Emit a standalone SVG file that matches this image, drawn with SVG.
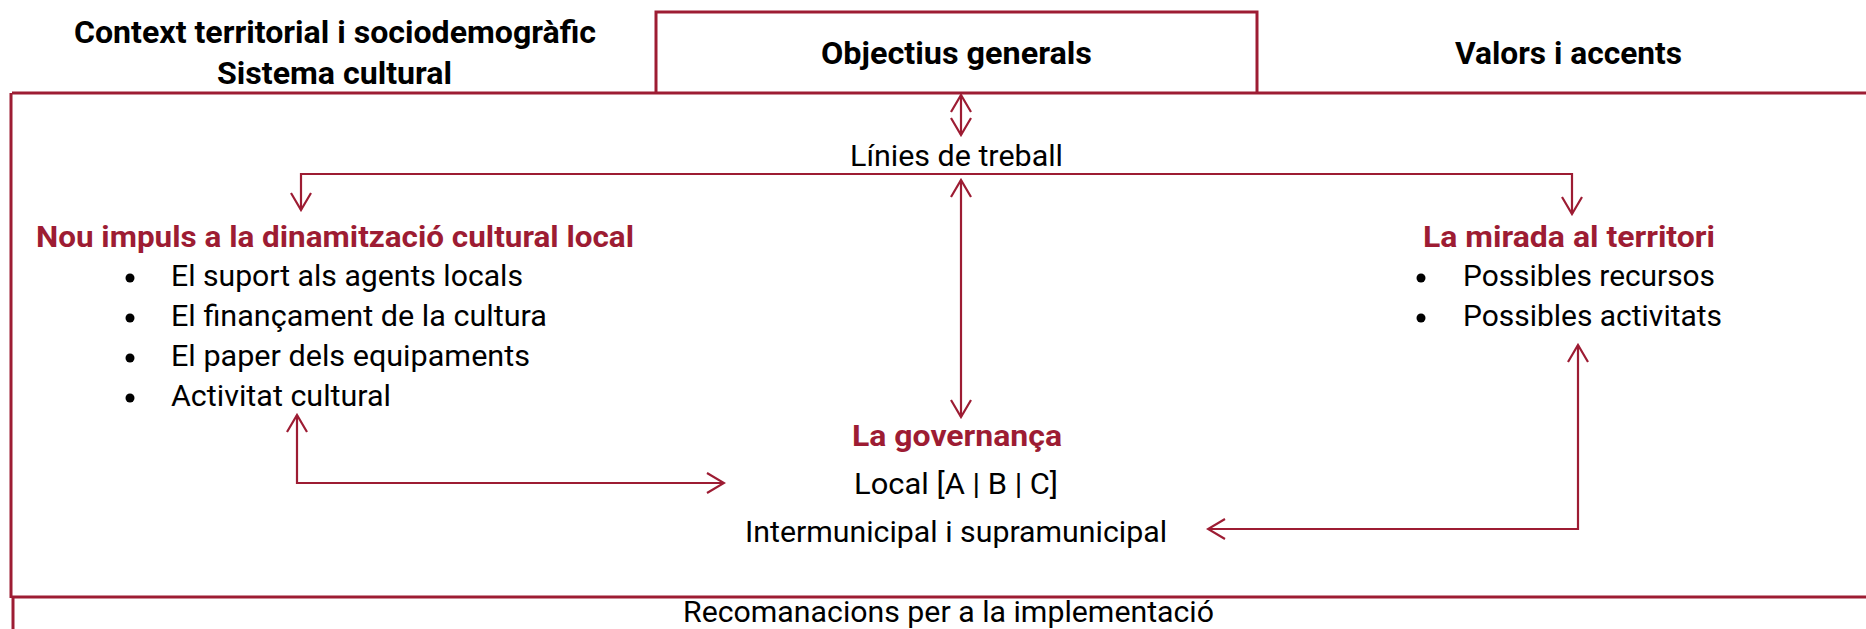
<svg xmlns="http://www.w3.org/2000/svg" width="1866" height="629" viewBox="0 0 1866 629">
<style>
.frame{fill:none;stroke:#9d1c33;stroke-width:3}
.conn{fill:none;stroke:#9d1c33;stroke-width:2.2}
.hb{font-family:Roboto,"Liberation Sans",sans-serif;font-weight:700;font-size:31px;fill:#000}
.hr{font-family:Roboto,"Liberation Sans",sans-serif;font-weight:700;font-size:30px;fill:#9d1c33}
.tx{font-family:Roboto,"Liberation Sans",sans-serif;font-weight:400;font-size:30px;fill:#000}
.bul{fill:#000}
</style>
<defs>
<marker id="ah" markerUnits="userSpaceOnUse" viewBox="-19 -12 21 24" refX="0" refY="0" markerWidth="21" markerHeight="24" orient="auto-start-reverse">
<path d="M-17,-10 L0,0 L-17,10" fill="none" stroke="#9d1c33" stroke-width="2.2"/>
</marker>
</defs>
<rect width="1866" height="629" fill="#fff"/>

<g id="frame">
<line class="frame" x1="12" y1="93" x2="1866" y2="93"/>
<line class="frame" x1="11" y1="93" x2="11" y2="598" stroke-width="2.5"/>
<line class="frame" x1="12" y1="597" x2="1866" y2="597"/>
<line class="frame" x1="13" y1="597" x2="13" y2="629"/>
</g>

<g id="context">
<text class="hb" x="74" y="43" textLength="522" lengthAdjust="spacingAndGlyphs">Context territorial i sociodemogràfic</text>
<text class="hb" x="217" y="84" textLength="235" lengthAdjust="spacingAndGlyphs">Sistema cultural</text>
</g>

<g id="objectius">
<path class="frame" d="M656,93 V12 H1257 V93"/>
<text class="hb" x="821" y="64" textLength="271" lengthAdjust="spacingAndGlyphs">Objectius generals</text>
</g>

<g id="valors">
<text class="hb" x="1455" y="64" textLength="227" lengthAdjust="spacingAndGlyphs">Valors i accents</text>
</g>

<g id="linies">
<text class="tx" x="850" y="166" textLength="213" lengthAdjust="spacingAndGlyphs">Línies de treball</text>
</g>

<g id="nou-impuls">
<text class="hr" x="36" y="247" textLength="598" lengthAdjust="spacingAndGlyphs">Nou impuls a la dinamització cultural local</text>
<circle class="bul" cx="130" cy="278" r="4.5"/>
<circle class="bul" cx="130" cy="318" r="4.5"/>
<circle class="bul" cx="130" cy="358" r="4.5"/>
<circle class="bul" cx="130" cy="398" r="4.5"/>
<text class="tx" x="171" y="286" textLength="352" lengthAdjust="spacingAndGlyphs">El suport als agents locals</text>
<text class="tx" x="171" y="326" textLength="376" lengthAdjust="spacingAndGlyphs">El finançament de la cultura</text>
<text class="tx" x="171" y="366" textLength="359" lengthAdjust="spacingAndGlyphs">El paper dels equipaments</text>
<text class="tx" x="171" y="406" textLength="220" lengthAdjust="spacingAndGlyphs">Activitat cultural</text>
</g>

<g id="mirada">
<text class="hr" x="1423" y="247" textLength="292" lengthAdjust="spacingAndGlyphs">La mirada al territori</text>
<circle class="bul" cx="1421" cy="278" r="4.5"/>
<circle class="bul" cx="1421" cy="318" r="4.5"/>
<text class="tx" x="1463" y="286" textLength="252" lengthAdjust="spacingAndGlyphs">Possibles recursos</text>
<text class="tx" x="1463" y="326" textLength="259" lengthAdjust="spacingAndGlyphs">Possibles activitats</text>
</g>

<g id="governanca">
<text class="hr" x="852" y="446" textLength="210" lengthAdjust="spacingAndGlyphs">La governança</text>
<text class="tx" x="854" y="494" textLength="204" lengthAdjust="spacingAndGlyphs">Local [A | B | C]</text>
<text class="tx" x="745" y="542" textLength="422" lengthAdjust="spacingAndGlyphs">Intermunicipal i supramunicipal</text>
</g>

<g id="recomanacions">
<text class="tx" x="683" y="622" textLength="531" lengthAdjust="spacingAndGlyphs">Recomanacions per a la implementació</text>
</g>

<g id="connectors">
<path class="conn" d="M961,95 V135" marker-start="url(#ah)" marker-end="url(#ah)"/>
<path class="conn" d="M961,180 V417" marker-start="url(#ah)" marker-end="url(#ah)"/>
<path class="conn" d="M301,210 V174 H1572 V214" marker-start="url(#ah)" marker-end="url(#ah)"/>
<path class="conn" d="M297,415 V483 H724" marker-start="url(#ah)" marker-end="url(#ah)"/>
<path class="conn" d="M1578,345 V529 H1208" marker-start="url(#ah)" marker-end="url(#ah)"/>
</g>
</svg>
